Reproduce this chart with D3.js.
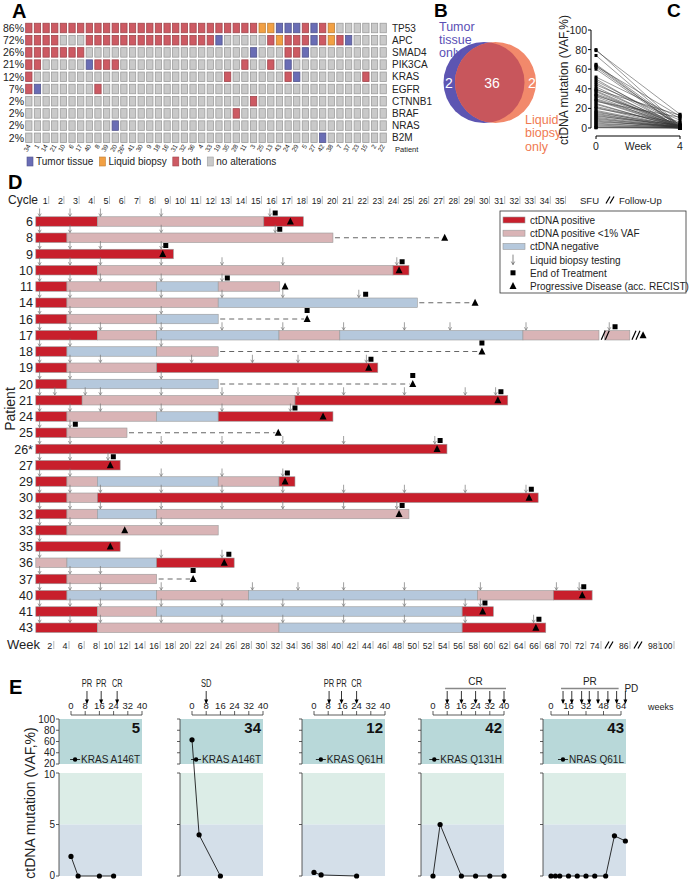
<!DOCTYPE html>
<html><head><meta charset="utf-8">
<script src="https://cdn.jsdelivr.net/npm/d3@7/dist/d3.min.js"></script>
<style>
body{margin:0;background:#fff;}
svg text{font-family:'Liberation Sans',Arial,Helvetica,sans-serif;fill:#222;}
</style></head><body>
<svg id="fig" width="689" height="882" xmlns="http://www.w3.org/2000/svg"></svg>
<script>
// ================= DATA =================
// ---- Panel A (oncoprint) ----
const genesA = ["TP53","APC","SMAD4","PIK3CA","KRAS","EGFR","CTNNB1","BRAF","NRAS","B2M"];
const genePctA = ["86%","72%","26%","21%","12%","7%","2%","2%","2%","2%"];
const patientsA = ["34","1","14","21","10","6","17","40","8","39","20","26*","41","30","9","18","16","31","32","36","4","33","19","35","28","11","3","25","13","43","24","29","5","27","42","38","7","37","23","15","2","22"];
// b = both, t = tumor tissue only, l = liquid biopsy only, . = no alteration
const altTP53   = "bbbbbbbbbbbbbbbbbbbbbbbbbbblltttbtbl......";
const altAPC    = "bbbb...bbbbbbbbbbbbbbbt.....blbbbtblbt....";
const altSMAD4  = "bbbbbbb...................t...bbt.........";
const altPIK3CA = "bb.....tbbb..............b..b.t...........";
const altKRAS   = "b......................b......bt.......b..";
const altEGFR   = "bt......b.................................";
const altCTNNB1 = "..........................b...............";
const altBRAF   = "........................b.................";
const altNRAS   = "..........t...............................";
const altB2M    = "..................................t.......";
const oncoRows = [altTP53,altAPC,altSMAD4,altPIK3CA,altKRAS,altEGFR,altCTNNB1,altBRAF,altNRAS,altB2M];
const legendA = [["t","Tumor tissue"],["l","Liquid biopsy"],["b","both"],[".","no alterations"]];

// ---- Panel B (Venn) ----
const vennCounts = [2,36,2];
const vennTumorLabel = ["Tumor","tissue","only"];
const vennLiquidLabel = ["Liquid","biopsy","only"];

// ---- Panel C ----
const cWeeks = [0,4];
const cVafWeek0 = [80,79,74,65,64,63,62,60,52,50,48,46,44,42,40,39,38,37,35,34,33,32,30,29,28,27,25,24,22,21,20,18,17,16,15,14,13,12,11,10,9,8,7,6,5,4,3,2,1,0.5,0.2];
const cVafWeek4 = [2,14,1,3,0.5,12,2,1,10,0.3,4,1,8,0.5,2,13,1,0,3,1,6,0,2,1,0.5,11,0,1,2,0.3,5,1,0,2,0.2,1,0,3,0.5,0,1,0,0.5,2,0,1,0,0.3,0,0.2,0];
const cYTicks = [0,20,40,60,80,100];

// ---- Panel D (swimmer plot) ----
const dPatients = ["6","8","9","10","11","14","16","17","18","19","20","21","24","25","26*","27","29","30","32","33","35","36","37","40","41","43"];
// P = ctDNA positive, L = positive <1% VAF, N = negative ; [type, startWeek, endWeek]
const dSegments = [
 [["P",-0.5,7.6],["L",7.6,29.5],["P",29.5,34.7]],
 [["P",-0.5,3.6],["L",3.6,38.6]],
 [["P",-0.5,17.6]],
 [["P",-0.5,7.6],["L",7.6,46.5],["P",46.5,48.6]],
 [["P",-0.5,3.6],["L",3.6,15.4],["N",15.4,23.5],["L",23.5,31.6]],
 [["P",-0.5,3.6],["L",3.6,23.5],["N",23.5,49.7]],
 [["P",-0.5,3.6],["L",3.6,15.4],["N",15.4,23.5]],
 [["P",-0.5,7.6],["L",7.6,15.4],["N",15.4,31.5],["L",31.5,39.5],["N",39.5,63.6],["L",63.6,73.6],["L",75,85.5]],
 [["P",-0.5,3.6],["N",3.6,15.4],["L",15.4,23.5]],
 [["P",-0.5,3.6],["L",3.6,15.4],["P",15.4,44.5]],
 [["P",-0.5,3.6],["N",3.6,23.5]],
 [["P",-0.5,5.6],["L",5.6,33.6],["P",33.6,61.6]],
 [["P",-0.5,3.6],["L",3.6,15.4],["N",15.4,23.5],["P",23.5,38.6]],
 [["P",-0.5,3.6],["L",3.6,11.5]],
 [["P",-0.5,53.6]],
 [["P",-0.5,10.6]],
 [["P",-0.5,3.6],["L",3.6,7.6],["N",7.6,23.5],["L",23.5,31.5],["P",31.5,33.6]],
 [["P",-0.5,3.6],["L",3.6,7.6],["P",7.6,65.6]],
 [["P",-0.5,3.6],["L",3.6,7.6],["N",7.6,15.4],["L",15.4,48.6]],
 [["P",-0.5,3.6],["L",3.6,23.5]],
 [["P",-0.5,10.6]],
 [["L",-0.5,3.6],["N",3.6,15.4],["P",15.4,25.6]],
 [["P",-0.5,3.6],["L",3.6,15.4]],
 [["P",-0.5,3.6],["N",3.6,15.4],["L",15.4,27.5],["N",27.5,57.6],["L",57.6,67.6],["P",67.6,72.7]],
 [["P",-0.5,7.6],["L",7.6,15.4],["N",15.4,55.6],["P",55.6,59.7]],
 [["P",-0.5,7.6],["L",7.6,31.5],["N",31.5,55.6],["P",55.6,66.6]]
];
const dArrows = [
 [0,4,8,16,30.3],[0,4,16,31],[0,4,8,16],[0,4,8,16,24,32,47],[0,4,8,16,24],
 [0,4,16,24,32,42],[0,4,16],[0,4,8,16,24,32,40,48,54,64,77],[0,4,16],[0,4,8,20,28,34,43],
 [0,4,16],[0,2,6,8,16,24,34,40,48,56,60],[0,4,8,16,24,33],[0,4],[0,4,16,24,32,40,52],
 [0,4,9],[0,4,16,24,32],[0,4,8,16,24,32,40,48,56,64],[0,4,8,16,24,32,40,47],[0,4,16],
 [0],[0,16,24],[0,4,8],[0,4,8,16,28,34,40,48,58,68,71],[0,4,8,16,24,32,40,48,56,58],
 [0,4,8,16,24,32,40,48,56,65]
];
const dEndTreatment = [31,31.6,16.6,47.7,24.7,42.9,35.2,79.4,58.2,43.6,49.1,60.7,33.6,4.7,52.7,9.7,32.6,64.7,47.7,null,null,24.9,20.2,71.6,58.6,65.7];
const dProgression  = [33,53.3,16.2,47.3,32.3,57.3,35.2,91,58.2,43.3,49.1,60.3,37.3,31.4,52.3,9.3,32.3,64.4,47.3,11.2,9.3,24.3,20.2,71.4,58.3,65.3];
const dDashed       = [0,1,0,0,0,1,1,0,1,0,1,0,0,1,0,0,0,0,0,0,0,0,1,0,0,0];
const dCycles = d3.range(1,36);
const dWeekTicks = [2,4,6,8,10,12,14,16,18,20,22,24,26,28,30,32,34,36,38,40,42,44,46,48,50,52,54,56,58,60,62,64,66,68,70,72,74,86,98,100];
const dLegend = [["P","ctDNA positive"],["L","ctDNA positive <1% VAF"],["N","ctDNA negative"],["arrow","Liquid biopsy testing"],["square","End of Treatment"],["tri","Progressive Disease (acc. RECIST)"]];

// ---- Panel E ----
const ePatients = ["5","34","12","42","43"];
const eMutation = ["KRAS A146T","KRAS A146T","KRAS Q61H","KRAS Q131H","NRAS Q61L"];
const eAxisTicks = [[0,8,16,24,32,40],[0,8,16,24,32,40],[0,8,16,24,32,40],[0,8,16,24,32,40],[0,16,32,48,64]];
const eWeeks = [[0,4,16,24],[0,4,16],[0,4,24],[0,4,16,24,32,40],[0,4,8,16,24,32,40,50,58,68]];
const eVaf = [[1.9,0,0,0],[63,4,0],[0.35,0.1,0],[0,5,0,0,0,0],[0,0,0,0,0,0,0,0,3.9,3.4]];
const eRespArrows = [[9,17,26],[8],[8.5,15.5,24],[8,16,24,32,40],[11,19,28,35,43,52,60,68]];
const eRespLabels = [["PR","PR","CR"],["SD"],["PR","PR","CR"],["CR"],["PR","PD"]];
const eUpperTicks = [20,40,60,80,100];
const eLowerTicks = [0,5,10];

// ================= DRAWING =================
const svg = d3.select("#fig");
const col = {b:"#cd5a63", t:"#6a6db5", l:"#f2a043", ".":"#c9c9c9"};

function panelLetter(t,x,y,fs){ svg.append("text").attr("x",x).attr("y",y).text(t).style("font-size",(fs||20)+"px").style("font-weight","bold").style("fill","#000"); }

// ---------- A ----------
panelLetter("A",12,18);
const aX = d3.scaleBand().domain(d3.range(patientsA.length)).range([24.5,387.5]).paddingInner(0.27).paddingOuter(0.135);
const aY = d3.scaleBand().domain(genesA).range([21.9,143.9]).paddingInner(0.22).paddingOuter(0.11);
const gA = svg.append("g");
oncoRows.forEach((row,ri)=>{
  const g = genesA[ri];
  gA.selectAll(null).data(row.split("")).enter().append("rect")
    .attr("x",(d,i)=>aX(i)).attr("y",aY(g)).attr("width",aX.bandwidth()).attr("height",aY.bandwidth())
    .attr("fill",d=>col[d]).attr("stroke",d=>d3.color(col[d]).darker(0.7)).attr("stroke-width",0.8);
  gA.append("text").attr("x",24).attr("y",aY(g)+aY.bandwidth()/2+3.8).attr("text-anchor","end").text(genePctA[ri]).style("font-size","10.5px");
  gA.append("text").attr("x",392).attr("y",aY(g)+aY.bandwidth()/2+3.6).text(g).style("font-size","10px");
});
gA.selectAll(null).data(patientsA).enter().append("text")
  .attr("transform",(d,i)=>`translate(${aX(i)+aX.bandwidth()/2+2},${146}) rotate(-60)`)
  .attr("text-anchor","end").text(d=>d).style("font-size","6.5px");
gA.append("text").attr("x",395).attr("y",152).text("Patient").style("font-size","7.5px");
let lx = 27;
legendA.forEach(([k,t])=>{
  gA.append("rect").attr("x",lx).attr("y",157).attr("width",6).attr("height",9).attr("fill",col[k]).attr("stroke",d3.color(col[k]).darker(0.7)).attr("stroke-width",0.6);
  const tt = gA.append("text").attr("x",lx+9).attr("y",165).text(t).style("font-size","10px");
  lx += 9 + tt.node().getComputedTextLength() + 6;
});

// ---------- B ----------
panelLetter("B",434,17,19);
const gB = svg.append("g");
const defs = svg.append("defs");
defs.append("clipPath").attr("id","clipT").append("circle").attr("cx",484).attr("cy",82.5).attr("r",40.5);
gB.append("circle").attr("cx",484).attr("cy",82.5).attr("r",40.5).attr("fill","#5d55b2");
gB.append("circle").attr("cx",495.5).attr("cy",82.5).attr("r",40.5).attr("fill","#f2896b");
gB.append("circle").attr("cx",495.5).attr("cy",82.5).attr("r",40.5).attr("fill","#c8565c").attr("clip-path","url(#clipT)");
[[449,vennCounts[0]],[492,vennCounts[1]],[532,vennCounts[2]]].forEach(([x,v])=>{
  gB.append("text").attr("x",x).attr("y",88).attr("text-anchor","middle").text(v).style("font-size","14px").style("fill","#fff");
});
vennTumorLabel.forEach((t,i)=>gB.append("text").attr("x",439).attr("y",30.5+i*13.3).text(t).style("font-size","12.5px").style("fill","#5a4fb5"));
vennLiquidLabel.forEach((t,i)=>gB.append("text").attr("x",525).attr("y",124+i*13.3).text(t).style("font-size","12.5px").style("fill","#f07a52"));

// ---------- C ----------
panelLetter("C",667,17,19);
const gC = svg.append("g");
const cX = d3.scaleLinear().domain([0,4]).range([596,680]);
const cY = d3.scaleLinear().domain([0,100]).range([128,30]);
gC.append("line").attr("x1",591).attr("x2",591).attr("y1",cY(100)).attr("y2",cY(0)).attr("stroke","#000");
cYTicks.forEach(t=>{
  gC.append("line").attr("x1",588).attr("x2",591).attr("y1",cY(t)).attr("y2",cY(t)).attr("stroke","#000");
  gC.append("text").attr("x",587).attr("y",cY(t)+4).attr("text-anchor","end").text(t).style("font-size","10.5px");
});
gC.append("line").attr("x1",cX(0)).attr("x2",cX(4)).attr("y1",136).attr("y2",136).attr("stroke","#000");
cWeeks.forEach(w=>{
  gC.append("line").attr("x1",cX(w)).attr("x2",cX(w)).attr("y1",136).attr("y2",139).attr("stroke","#000");
  gC.append("text").attr("x",cX(w)).attr("y",150).attr("text-anchor","middle").text(w).style("font-size","10.5px");
});
gC.append("text").attr("x",638).attr("y",150).attr("text-anchor","middle").text("Week").style("font-size","10.5px");
gC.append("text").attr("transform","translate(568,80) rotate(-90)").attr("text-anchor","middle").text("ctDNA mutation (VAF,%)").style("font-size","12px");
cVafWeek0.forEach((v,i)=>{
  gC.append("line").attr("x1",cX(0)).attr("y1",cY(v)).attr("x2",cX(4)).attr("y2",cY(cVafWeek4[i])).attr("stroke","#333").attr("stroke-width",0.5);
});
cVafWeek0.forEach((v,i)=>{
  gC.append("rect").attr("x",cX(0)-1.5).attr("y",cY(v)-1.5).attr("width",3).attr("height",3).attr("fill","#000");
  gC.append("rect").attr("x",cX(4)-1.5).attr("y",cY(cVafWeek4[i])-1.5).attr("width",3).attr("height",3).attr("fill","#000");
});

// ---------- D ----------
panelLetter("D",8,189);
const gD = svg.append("g");
const wx = d3.scaleLinear().domain([0,74,86,98,100]).range([39.6,602,631,660,675]);
const rowY = d3.scalePoint().domain(dPatients).range([221.5,221.5+25*16.25]);
const segCol = {P:"#c81f2c", L:"#d9b4b6", N:"#b5c8dc"};
gD.append("text").attr("x",8).attr("y",204).text("Cycle").style("font-size","12px");
dCycles.forEach(n=>{
  const bx = wx(2*n-0.8);
  gD.append("text").attr("x",bx-1).attr("y",204).attr("text-anchor","end").text(n).style("font-size","9.5px").attr("textLength",n<10?5:9.5).attr("lengthAdjust","spacingAndGlyphs");
  gD.append("line").attr("x1",bx).attr("x2",bx).attr("y1",196).attr("y2",204).attr("stroke","#888").attr("stroke-width",0.6);
});
gD.append("text").attr("x",580).attr("y",204).text("SFU").style("font-size","9.5px");
function slashes(g,x,y,h){ [0,4].forEach(o=>g.append("line").attr("x1",x+o).attr("y1",y+h/2).attr("x2",x+o+4).attr("y2",y-h/2).attr("stroke","#000").attr("stroke-width",1.2)); }
slashes(gD,606,200,7);
gD.append("text").attr("x",619).attr("y",204).text("Follow-Up").style("font-size","9.5px");
gD.append("text").attr("transform","translate(15,409) rotate(-90)").attr("text-anchor","middle").text("Patient").style("font-size","14px");
dPatients.forEach((p,i)=>{
  const cy = rowY(p);
  gD.append("text").attr("x",33).attr("y",cy+4.5).attr("text-anchor","end").text(p).style("font-size","12.5px");
  const segs = dSegments[i];
  const endW = segs[segs.length-1][2];
  if(dDashed[i]){
    gD.append("line").attr("x1",wx(endW)+2).attr("x2",wx(dProgression[i])-3).attr("y1",cy).attr("y2",cy)
      .attr("stroke","#666").attr("stroke-width",1).attr("stroke-dasharray","5,4");
  }
  segs.forEach(([t,s,e])=>{
    gD.append("rect").attr("x",wx(s)).attr("y",cy-4.75).attr("width",wx(e)-wx(s)).attr("height",9.5)
      .attr("fill",segCol[t]).attr("stroke","#9a9a9a").attr("stroke-width",0.6);
  });
  dArrows[i].forEach(a=>{
    const x = wx(a);
    gD.append("path").attr("d",`M${x},${cy-13}L${x},${cy-5.2}M${x-1.6},${cy-8}L${x},${cy-5.2}L${x+1.6},${cy-8}`)
      .attr("stroke","#777").attr("stroke-width",0.7).attr("fill","none");
  });
  if(dEndTreatment[i]!=null){
    gD.append("rect").attr("x",wx(dEndTreatment[i])-2.5).attr("y",cy-11).attr("width",5).attr("height",5).attr("fill","#000");
  }
  const px = wx(dProgression[i]);
  gD.append("path").attr("d",`M${px-3.5},${cy+3}L${px+3.5},${cy+3}L${px},${cy-4}Z`).attr("fill","#000");
  if(p==="17"){ slashes(gD,wx(73.9),cy,9); slashes(gD,wx(86.4),cy,9); }
});
gD.append("text").attr("x",7).attr("y",649).text("Week").style("font-size","13px");
dWeekTicks.forEach(w=>{
  const x = wx(w);
  gD.append("text").attr("x",x-2.5).attr("y",649).attr("text-anchor","end").text(w).style("font-size","9.5px").attr("textLength",w<10?5:(w<100?9.5:14)).attr("lengthAdjust","spacingAndGlyphs");
  gD.append("line").attr("x1",x-1).attr("x2",x-1).attr("y1",641).attr("y2",649).attr("stroke","#888").attr("stroke-width",0.6);
});
slashes(gD,605,645,7); slashes(gD,634,645,7);
const lg = gD.append("g");
lg.append("rect").attr("x",500).attr("y",211).attr("width",186).attr("height",82).attr("fill","#fff").attr("stroke","#333").attr("stroke-width",0.8);
dLegend.forEach(([k,t],i)=>{
  const y = 220 + i*13.2;
  if(segCol[k]) lg.append("rect").attr("x",503).attr("y",y-3).attr("width",22).attr("height",6).attr("fill",segCol[k]).attr("stroke","#9a9a9a").attr("stroke-width",0.6);
  else if(k==="arrow") lg.append("path").attr("d",`M513,${y-5}L513,${y+5}M511.3,${y+2}L513,${y+5}L514.7,${y+2}`).attr("stroke","#555").attr("stroke-width",0.7).attr("fill","none");
  else if(k==="square") lg.append("rect").attr("x",510.5).attr("y",y-2.5).attr("width",5).attr("height",5).attr("fill","#000");
  else lg.append("path").attr("d",`M509.5,${y+3}L516.5,${y+3}L513,${y-4}Z`).attr("fill","#000");
  lg.append("text").attr("x",530).attr("y",y+4).text(t).style("font-size","10px");
});

// ---------- E ----------
panelLetter("E",9,694);
const gE = svg.append("g");
const eL = [59,180,302,421,543];
const eW = 83;
const yU = d3.scaleLinear().domain([20,100]).range([764,719]);
const yLo = d3.scaleLinear().domain([0,10]).range([876,773]);
gE.append("text").attr("transform","translate(35,803) rotate(-90)").attr("text-anchor","middle").text("ctDNA mutation (VAF,%)").style("font-size","14px");
ePatients.forEach((pid,p)=>{
  const L = eL[p];
  const ticks = eAxisTicks[p];
  const maxW = ticks[ticks.length-1];
  const xs = d3.scaleLinear().domain([0,maxW]).range(p<4?[L+12,L+83]:[L+8,L+78]);
  const g = gE.append("g");
  g.append("rect").attr("x",L).attr("y",yU(100)).attr("width",eW).attr("height",yU(20)-yU(100)).attr("fill","#b8d8d9");
  g.append("rect").attr("x",L).attr("y",yLo(10)).attr("width",eW).attr("height",yLo(5)-yLo(10)).attr("fill","#dcede7");
  g.append("rect").attr("x",L).attr("y",yLo(5)).attr("width",eW).attr("height",yLo(0)-yLo(5)).attr("fill","#d4dfe9");
  g.append("line").attr("x1",L).attr("x2",L).attr("y1",yU(100)).attr("y2",yU(20)).attr("stroke","#333").attr("stroke-width",0.8);
  g.append("line").attr("x1",L).attr("x2",L).attr("y1",yLo(10)).attr("y2",yLo(0)).attr("stroke","#333").attr("stroke-width",0.8);
  eUpperTicks.forEach(t=>{
    g.append("line").attr("x1",L-3).attr("x2",L).attr("y1",yU(t)).attr("y2",yU(t)).attr("stroke","#333").attr("stroke-width",0.8);
    if(p===0) g.append("text").attr("x",L-4).attr("y",yU(t)+(t===20?2.5:3.6)).attr("text-anchor","end").text(t).style("font-size","10px");
  });
  eLowerTicks.forEach(t=>{
    g.append("line").attr("x1",L-3).attr("x2",L).attr("y1",yLo(t)).attr("y2",yLo(t)).attr("stroke","#333").attr("stroke-width",0.8);
    if(p===0) g.append("text").attr("x",L-4).attr("y",yLo(t)+(t===10?5:(t===0?3:3.6))).attr("text-anchor","end").text(t).style("font-size","10px");
  });
  g.append("line").attr("x1",xs(0)).attr("x2",xs(maxW)).attr("y1",715).attr("y2",715).attr("stroke","#333").attr("stroke-width",0.8);
  ticks.forEach(t=>{
    g.append("line").attr("x1",xs(t)).attr("x2",xs(t)).attr("y1",711).attr("y2",715).attr("stroke","#333").attr("stroke-width",0.8);
    g.append("text").attr("x",xs(t)).attr("y",709).attr("text-anchor","middle").text(t).style("font-size","9.5px");
  });
  eRespArrows[p].forEach(a=>{
    const x = xs(a);
    g.append("path").attr("d",`M${x},691L${x},703`).attr("stroke","#000").attr("stroke-width",0.8);
    g.append("path").attr("d",`M${x-2},699.5L${x+2},699.5L${x},704Z`).attr("fill","#000");
  });
  const labs = eRespLabels[p];
  if(labs.length===eRespArrows[p].length){
    labs.forEach((t,i)=>g.append("text").attr("x",xs(eRespArrows[p][i])).attr("y",687).attr("text-anchor","middle").text(t).style("font-size","10px").attr("textLength",10.5).attr("lengthAdjust","spacingAndGlyphs"));
  } else {
    const ar = eRespArrows[p];
    const lastSpan = p===4 ? ar.length-2 : ar.length-1;
    const x1 = xs(ar[0])-2, x2 = xs(ar[lastSpan])+2;
    g.append("line").attr("x1",x1).attr("x2",x2).attr("y1",688.5).attr("y2",688.5).attr("stroke","#888").attr("stroke-width",1.3);
    g.append("text").attr("x",(x1+x2)/2).attr("y",685).attr("text-anchor","middle").text(labs[0]).style("font-size","10px");
    if(labs[1]) g.append("text").attr("x",xs(ar[ar.length-1])-1).attr("y",692).text(labs[1]).style("font-size","10px");
  }
  g.append("text").attr("x",L+81).attr("y",733).attr("text-anchor","end").text(pid).style("font-size","15px").style("font-weight","bold").style("fill","#111");
  const mt = g.append("text").attr("x",L+81).attr("y",763).attr("text-anchor","end").text(eMutation[p]).style("font-size","10px");
  const tl = mt.node().getComputedTextLength();
  const dx = L+81-tl-6;
  g.append("line").attr("x1",dx-5).attr("x2",dx+5).attr("y1",759.5).attr("y2",759.5).attr("stroke","#000").attr("stroke-width",0.8);
  g.append("circle").attr("cx",dx).attr("cy",759.5).attr("r",2.2).attr("fill","#000");
  const yv = v => v>10 ? yU(v) : yLo(v);
  const pts = eWeeks[p].map((w,i)=>[xs(w), yv(eVaf[p][i])]);
  g.append("path").attr("d",d3.line()(pts)).attr("fill","none").attr("stroke","#000").attr("stroke-width",0.8);
  g.selectAll(null).data(pts).enter().append("circle").attr("cx",d=>d[0]).attr("cy",d=>d[1]).attr("r",2.6).attr("fill","#000");
  if(p===4) g.append("text").attr("x",648).attr("y",710).text("weeks").style("font-size","9px");
});
</script></body></html>
